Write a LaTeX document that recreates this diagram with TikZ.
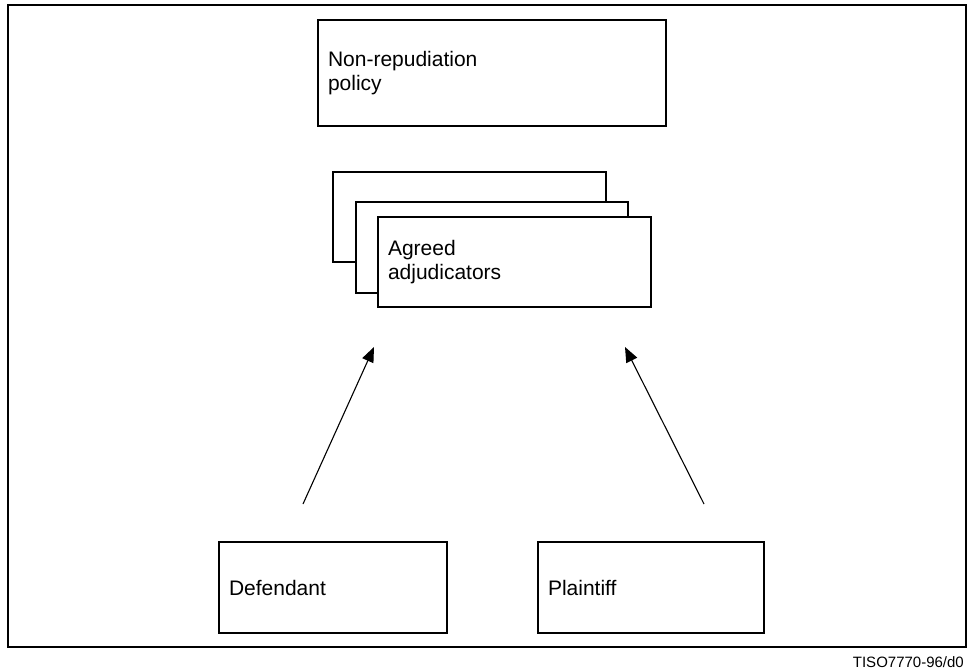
\documentclass[tikz,border=0pt]{standalone}
\usepackage{fontspec}
\setmainfont{Liberation Sans}
\usetikzlibrary{arrows.meta, positioning}

\begin{document}
\begin{tikzpicture}[
        x=1pt, y=-1pt,
        box/.style={rectangle, draw, line width=1.1pt, fill=white, inner xsep=10pt, align=left, text width=#1, font=\fontsize{21}{24}\selectfont},
        arrow/.style={-{Triangle[length=15pt, width=12pt]}, line width=1.1pt}
    ]
        \useasboundingbox (0,0) rectangle (968,671);

        % Frame
        \node[draw, line width=1.5pt, minimum width=958pt, minimum height=642pt, inner sep=0pt] (frame) at (487,326) {};
        \node[anchor=base east, inner sep=0pt, font=\fontsize{15}{17}\selectfont] (tag) at (964,667) {TISO7770-96/d0};

        % Boxes
        \node[box=328pt, minimum height=106pt] (policy) at (492,73) {Non-repudiation\\policy};
        \node[box=253pt, minimum height=90pt] (adjback) at (469.5,217) {};
        \node[box=252pt, minimum height=91pt] (adjmid) at (492,247.5) {};
        \node[box=253pt, minimum height=90pt] (adj) at (514.5,262) {Agreed\\adjudicators};
        \node[box=208pt, minimum height=91pt] (def) at (333,587.5) {Defendant};
        \node[box=206pt, minimum height=91pt] (plain) at (651,587.5) {Plaintiff};

        % Arrows
        \coordinate (deftail) at (303,504);
        \coordinate (adjleft) at (374,347);
        \coordinate (plaintail) at (704,504);
        \coordinate (adjright) at (625,347);
        \draw[arrow] (deftail) -- (adjleft);
        \draw[arrow] (plaintail) -- (adjright);
    \end{tikzpicture}
\end{document}
